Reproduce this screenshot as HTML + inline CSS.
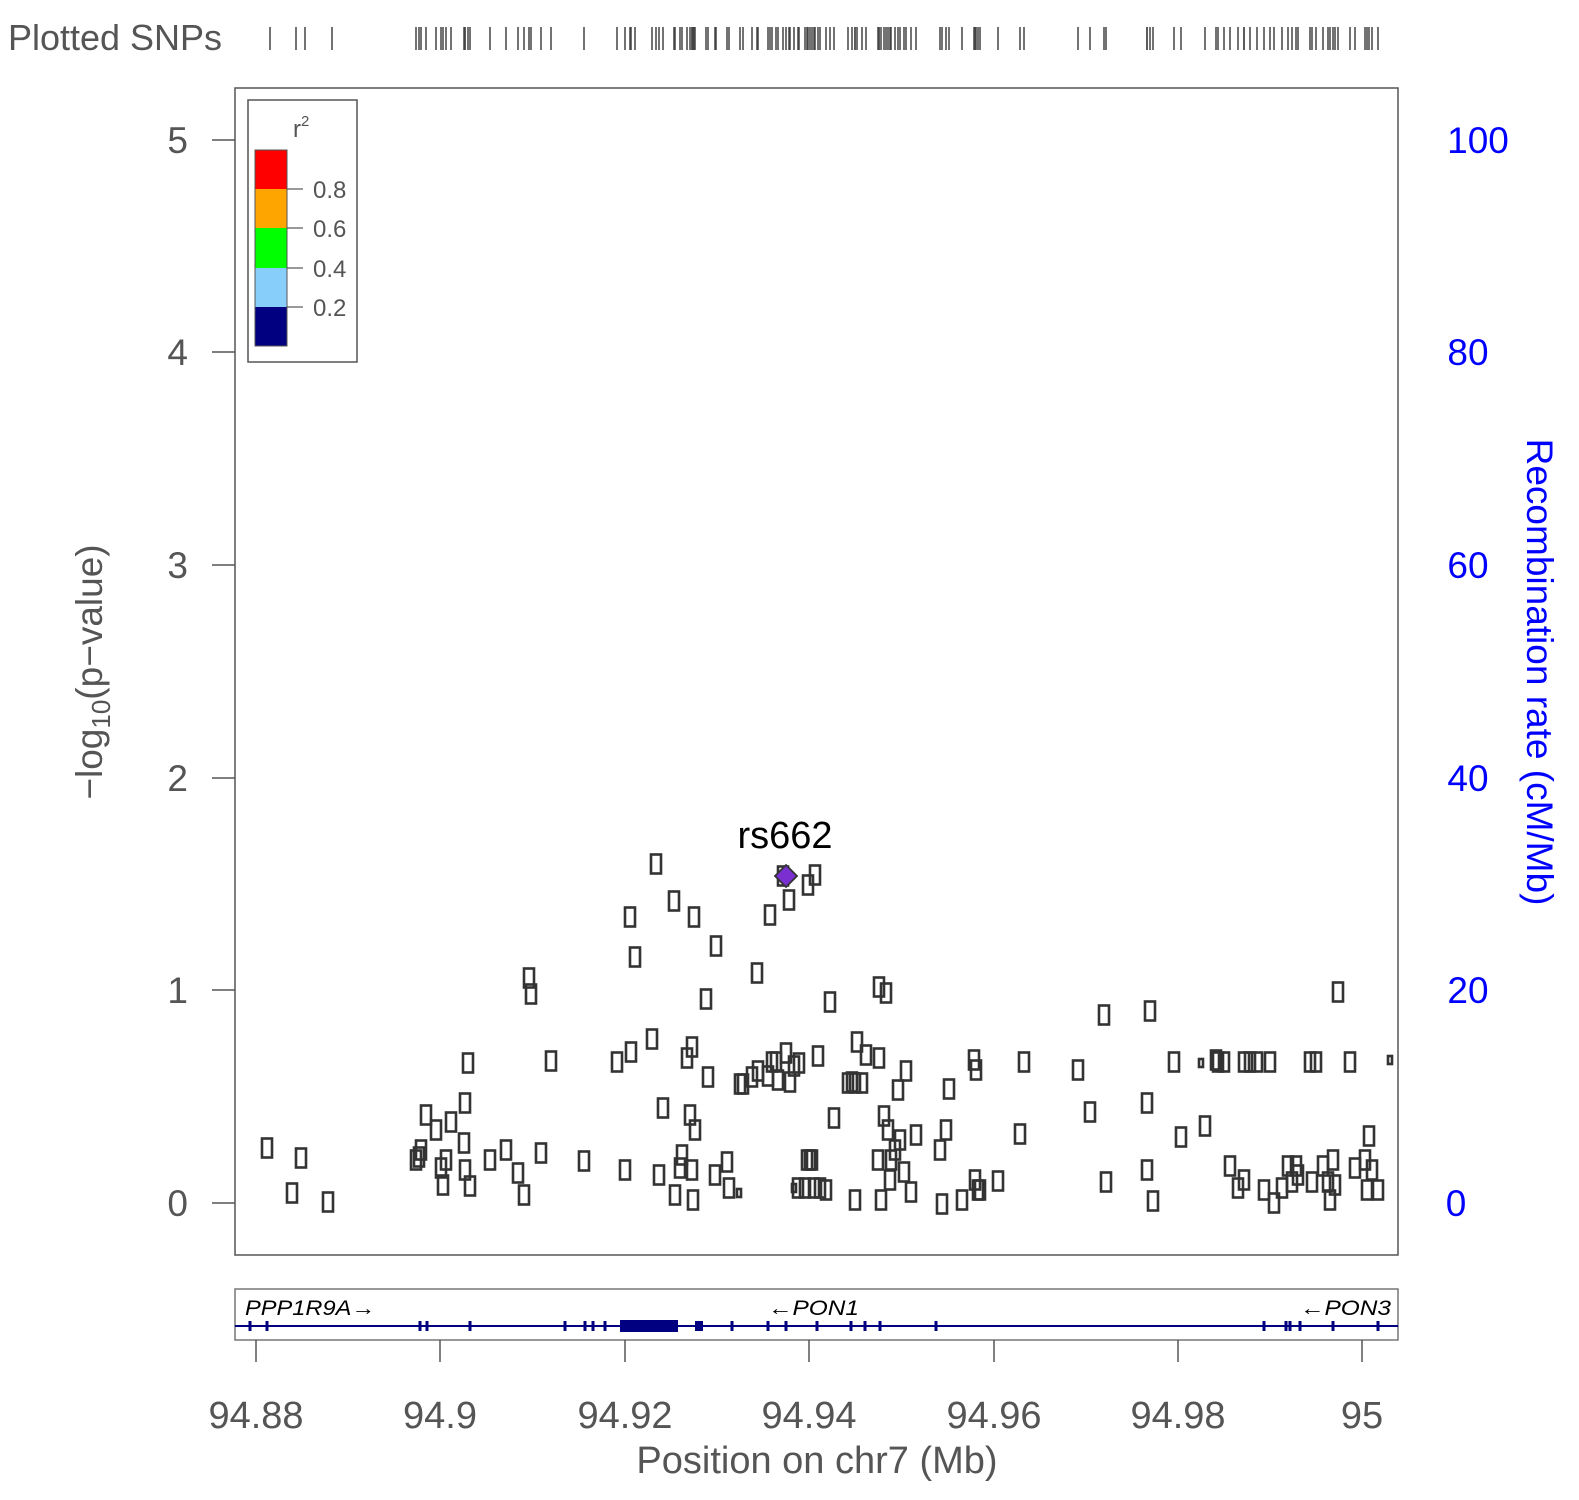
<!DOCTYPE html>
<html><head><meta charset="utf-8"><style>
html,body{margin:0;padding:0;background:#fff}
svg{display:block;font-family:"Liberation Sans",Arial,sans-serif}
</style></head><body>
<svg id="s" width="1579" height="1500" viewBox="0 0 1579 1500" xmlns="http://www.w3.org/2000/svg">
<rect width="1579" height="1500" fill="#fff"/>
<text x="8" y="50" font-size="36" fill="#555" textLength="214" lengthAdjust="spacingAndGlyphs">Plotted SNPs</text>
<g id="ticks" stroke="#444" stroke-width="1.5"></g>
<rect x="235" y="88" width="1163" height="1167" fill="none" stroke="#555" stroke-width="1.5"/>
<g stroke="#555" stroke-width="1.5">
<line x1="212" y1="140" x2="235" y2="140"/><line x1="212" y1="352" x2="235" y2="352"/>
<line x1="212" y1="565" x2="235" y2="565"/><line x1="212" y1="778" x2="235" y2="778"/>
<line x1="212" y1="990" x2="235" y2="990"/><line x1="212" y1="1203" x2="235" y2="1203"/>
</g>
<g font-size="37" fill="#555" text-anchor="end">
<text x="188" y="153">5</text><text x="188" y="365">4</text><text x="188" y="578">3</text>
<text x="188" y="791">2</text><text x="188" y="1003">1</text><text x="188" y="1216">0</text>
</g>
<g font-size="37" fill="#0000ff" text-anchor="middle">
<text x="1478" y="153">100</text><text x="1468" y="365">80</text><text x="1468" y="578">60</text>
<text x="1468" y="791">40</text><text x="1468" y="1003">20</text><text x="1456" y="1216">0</text>
</g>
<text transform="translate(102,672) rotate(-90)" font-size="37" fill="#555" text-anchor="middle">−log<tspan font-size="26" dy="8">10</tspan><tspan dy="-8">(p−value)</tspan></text>
<text transform="translate(1527,672) rotate(90)" font-size="37" fill="#0000ff" text-anchor="middle">Recombination rate (cM/Mb)</text>
<!-- legend -->
<rect x="248" y="100" width="109" height="262" fill="#fff" stroke="#555" stroke-width="1.5"/>
<text x="293" y="137" font-size="24" fill="#555">r<tspan font-size="15" dy="-11">2</tspan></text>
<rect x="255" y="150" width="32" height="39" fill="#ff0000"/>
<rect x="255" y="189" width="32" height="39" fill="#ffa500"/>
<rect x="255" y="228" width="32" height="40" fill="#00ff00"/>
<rect x="255" y="268" width="32" height="39" fill="#87cefa"/>
<rect x="255" y="307" width="32" height="39" fill="#000080"/>
<rect x="255" y="150" width="32" height="196" fill="none" stroke="#555" stroke-width="1"/>
<g stroke="#555" stroke-width="1.2"><line x1="287" y1="189" x2="303" y2="189"/><line x1="287" y1="228" x2="303" y2="228"/><line x1="287" y1="268" x2="303" y2="268"/><line x1="287" y1="307" x2="303" y2="307"/></g>
<g font-size="24" fill="#555"><text x="313" y="198">0.8</text><text x="313" y="237">0.6</text><text x="313" y="277">0.4</text><text x="313" y="316">0.2</text></g>
<g id="pts" fill="none" stroke="#333" stroke-width="2.6"></g>
<polygon points="786,865 797,876 786,887 775,876" fill="#7b2fd0" stroke="#333" stroke-width="1.8"/>
<text x="785" y="848" font-size="38" fill="#000" text-anchor="middle">rs662</text>
<!-- gene track -->
<rect x="235" y="1289" width="1163" height="51" fill="none" stroke="#777" stroke-width="1.5"/>
<line x1="235" y1="1326" x2="1398" y2="1326" stroke="#000080" stroke-width="2"/>
<g id="ex" fill="#000080"></g>
<g font-size="21" font-style="italic" fill="#000">
<text x="245" y="1315" textLength="130" lengthAdjust="spacingAndGlyphs">PPP1R9A→</text>
<text x="768" y="1315" textLength="91" lengthAdjust="spacingAndGlyphs">←PON1</text>
<text x="1300" y="1315" textLength="91" lengthAdjust="spacingAndGlyphs">←PON3</text>
</g>
<g stroke="#555" stroke-width="1.5">
<line x1="256" y1="1340" x2="256" y2="1362"/><line x1="440" y1="1340" x2="440" y2="1362"/>
<line x1="625" y1="1340" x2="625" y2="1362"/><line x1="809" y1="1340" x2="809" y2="1362"/>
<line x1="994" y1="1340" x2="994" y2="1362"/><line x1="1178" y1="1340" x2="1178" y2="1362"/>
<line x1="1362" y1="1340" x2="1362" y2="1362"/>
</g>
<g font-size="38" fill="#555" text-anchor="middle">
<text x="256" y="1428">94.88</text><text x="440" y="1428">94.9</text><text x="625" y="1428">94.92</text>
<text x="809" y="1428">94.94</text><text x="994" y="1428">94.96</text><text x="1178" y="1428">94.98</text>
<text x="1362" y="1428">95</text>
</g>
<text x="817" y="1473" font-size="38" fill="#555" text-anchor="middle">Position on chr7 (Mb)</text>
</svg>
<script>
var NS="http://www.w3.org/2000/svg";
function el(p,n,a){var e=document.createElementNS(NS,n);for(var k in a)e.setAttribute(k,a[k]);p.appendChild(e);}
var P=[[267,1148],[301,1158],[292,1193],[328,1202],[416,1160],[419,1157],[421,1150],[426,1115],[436,1130],[441,1168],[446,1160],[443,1185],[451,1122],[465,1103],[468,1063],[464,1143],[465,1170],[470,1186],[490,1160],[506,1150],[518,1173],[524,1195],[541,1153],[529,978],[531,994],[551,1061],[584,1161],[617,1062],[625,1170],[631,1052],[630,917],[635,957],[652,1039],[656,864],[659,1175],[663,1108],[674,901],[675,1195],[680,1168],[682,1155],[687,1058],[692,1047],[690,1115],[694,917],[695,1130],[693,1200],[692,1170],[708,1077],[706,999],[716,946],[715,1175],[727,1162],[729,1188],[740,1084],[743,1084],[752,1077],[757,973],[758,1071],[768,1076],[770,915],[772,1062],[776,1062],[778,1080],[786,1053],[789,900],[790,1082],[794,1066],[799,1063],[808,885],[815,875],[818,1056],[783,876],[807,1160],[810,1160],[812,1160],[798,1188],[805,1188],[814,1188],[820,1188],[826,1190],[830,1002],[834,1118],[855,1200],[857,1042],[862,1083],[866,1055],[879,1058],[848,1083],[852,1082],[855,1083],[879,987],[886,993],[878,1160],[884,1116],[888,1130],[891,1160],[881,1200],[890,1180],[895,1150],[900,1140],[904,1172],[898,1090],[906,1071],[911,1192],[916,1135],[940,1150],[942,1204],[946,1130],[949,1089],[962,1200],[974,1060],[976,1070],[975,1180],[978,1190],[980,1190],[998,1181],[1020,1134],[1024,1062],[1078,1070],[1090,1112],[1104,1015],[1106,1182],[1147,1103],[1150,1011],[1153,1201],[1147,1170],[1174,1062],[1181,1137],[1205,1126],[1216,1060],[1218,1062],[1224,1062],[1230,1166],[1238,1188],[1244,1180],[1244,1062],[1250,1062],[1257,1062],[1264,1190],[1270,1062],[1274,1203],[1282,1188],[1288,1166],[1292,1182],[1296,1166],[1298,1175],[1310,1062],[1312,1182],[1316,1062],[1323,1166],[1328,1182],[1330,1200],[1333,1160],[1335,1185],[1338,992],[1350,1062],[1355,1168],[1365,1160],[1369,1136],[1372,1170],[1378,1190],[1367,1190]];
var g=document.getElementById("pts");
P.forEach(function(p){el(g,"rect",{x:p[0]-5,y:p[1]-9.5,width:10,height:19});});
[[1201,1063],[739,1193],[794,1188],[1390,1060]].forEach(function(p){el(g,"rect",{x:p[0]-2,y:p[1]-4,width:4,height:8});});
var T=document.getElementById("ticks");
var xs=[270,296,305,332];
P.forEach(function(p){if(p[0]>400)xs.push(p[0]);});
xs.forEach(function(x){el(T,"line",{x1:x,y1:27,x2:x,y2:50});});
var E=document.getElementById("ex");
[250,267,420,427,470,565,585,593,605,732,768,786,817,851,865,880,936,1264,1286,1290,1300,1333,1378].forEach(function(x){el(E,"rect",{x:x-1.5,y:1321,width:3,height:10});});
el(E,"rect",{x:620,y:1320,width:58,height:12});
el(E,"rect",{x:695,y:1321,width:8,height:10});
</script>
</body></html>
